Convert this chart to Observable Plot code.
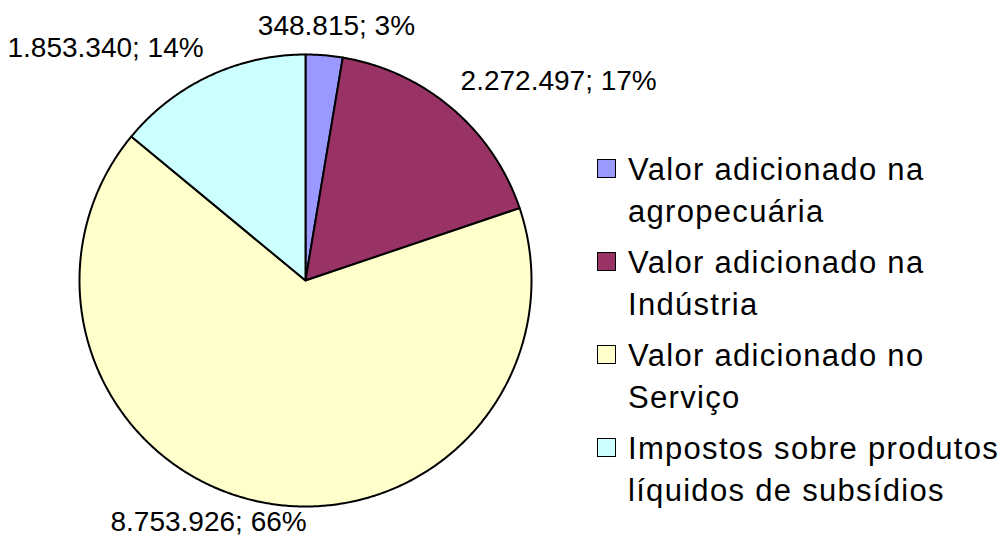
<!DOCTYPE html>
<html><head><meta charset="utf-8">
<script src="https://cdn.jsdelivr.net/npm/d3@7"></script>
<script src="https://cdn.jsdelivr.net/npm/@observablehq/plot@0.6"></script>
<style>
body{margin:0;background:#fff;}
#wrap{position:relative;width:1004px;height:547px;font-family:"Liberation Sans",Arial,sans-serif;}
#legend{position:absolute;left:597px;top:149px;}
.item{display:flex;align-items:flex-start;margin-bottom:9px;}
.sw{width:17px;height:17px;border:1.5px solid #000;margin-top:10px;margin-right:12px;flex:none;box-sizing:content-box;}
.txt{font-size:31px;line-height:42px;letter-spacing:1.3px;color:#000;white-space:nowrap;}
</style></head>
<body><div id="wrap"></div>
<script>
// ---- data ----
const categories = [
  "Valor adicionado na agropecuária",
  "Valor adicionado na Indústria",
  "Valor adicionado no Serviço",
  "Impostos sobre produtos líquidos de subsídios"
];
const legendLines = [
  ["Valor adicionado na", "agropecuária"],
  ["Valor adicionado na", "Indústria"],
  ["Valor adicionado no", "Serviço"],
  ["Impostos sobre produtos", "líquidos de subsídios"]
];
const values = [348815, 2272497, 8753926, 1853340];
const colors = ["#9999FF", "#993366", "#FFFFCC", "#CCFFFF"];
// label nudges in pixels (layout only)
const labelNudge = [[10, -2], [-9, -7], [-51, -7], [6, -3]];

// ---- derived ----
const total = d3.sum(values);
const ptBR = d3.formatLocale({decimal: ",", thousands: ".", grouping: [3], currency: ["R$", ""]});
const fmt = ptBR.format(",d");

const slices = [];
let acc = 0;
values.forEach((v, i) => {
  const a0 = acc / total * 2 * Math.PI;
  acc += v;
  const a1 = acc / total * 2 * Math.PI;
  slices.push({name: categories[i], value: v, a0, a1, i});
});

const polyPts = [];
for (const s of slices) {
  polyPts.push({name: s.name, x: 0, y: 0});
  const n = Math.max(2, Math.ceil((s.a1 - s.a0) / (Math.PI / 360)));
  for (let k = 0; k <= n; k++) {
    const a = s.a0 + (s.a1 - s.a0) * k / n;
    polyPts.push({name: s.name, x: Math.sin(a), y: Math.cos(a)});
  }
}

const labelMarks = slices.map(s => {
  const mid = (s.a0 + s.a1) / 2;
  const r = 1.12;
  const sx = Math.sin(mid);
  const anchor = Math.abs(sx) < 0.25 ? "middle" : (sx > 0 ? "start" : "end");
  const txt = `${fmt(s.value)}; ${Math.round(s.value / total * 100)}%`;
  return Plot.text([{x: r * sx, y: r * Math.cos(mid), t: txt}], {
    x: "x", y: "y", text: "t", textAnchor: anchor,
    dx: labelNudge[s.i][0], dy: labelNudge[s.i][1],
    fontSize: 28, fill: "#000"
  });
});

const chart = Plot.plot({
  width: 1004, height: 547,
  marginLeft: 79, marginRight: 1004 - 531, marginTop: 54, marginBottom: 547 - 506,
  x: {domain: [-1, 1], axis: null},
  y: {domain: [-1, 1], axis: null},
  color: {domain: categories, range: colors},
  style: {fontFamily: '"Liberation Sans", Arial, sans-serif', background: "#fff", overflow: "visible"},
  marks: [
    Plot.line(polyPts, {x: "x", y: "y", z: "name", fill: "name", stroke: "#000",
      strokeWidth: 2, curve: "linear-closed", strokeLinejoin: "round"}),
    ...labelMarks
  ]
});

const wrap = document.getElementById("wrap");
wrap.appendChild(chart);

const color = chart.scale("color");
const legend = document.createElement("div");
legend.id = "legend";
categories.forEach((c, i) => {
  const item = document.createElement("div");
  item.className = "item";
  const sw = document.createElement("div");
  sw.className = "sw";
  sw.style.background = color.apply(c);
  const txt = document.createElement("div");
  txt.className = "txt";
  txt.innerHTML = legendLines[i].join("<br>");
  item.appendChild(sw); item.appendChild(txt);
  legend.appendChild(item);
});
wrap.appendChild(legend);
</script>
</body></html>
